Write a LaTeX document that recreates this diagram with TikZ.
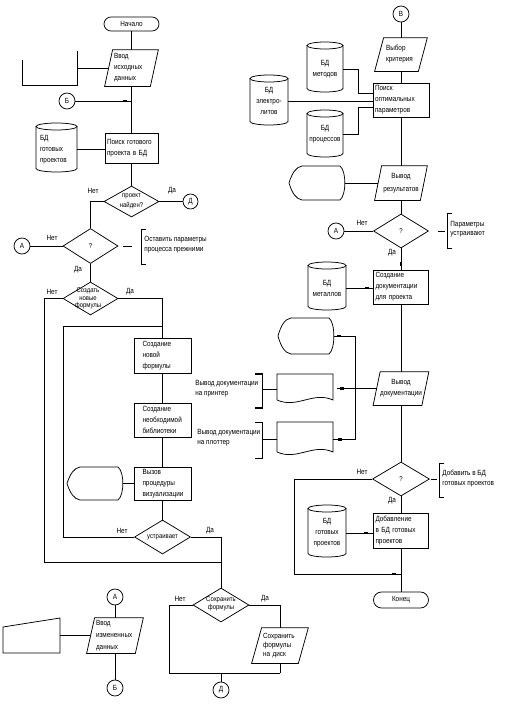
\documentclass[tikz,border=0pt]{standalone}
\usepackage{fontspec}
\setmainfont{Liberation Sans}[FakeStretch=0.85]
\usetikzlibrary{shapes.geometric,shapes.misc}
\newcommand\mycyl[7]{%
 \pgfmathsetmacro\myL{#2-#4/2}%
 \pgfmathsetmacro\myR{#2+#4/2}%
 \pgfmathsetmacro\myT{#3-#5/2+3.5}%
 \pgfmathsetmacro\myB{#3+#5/2-3.5}%
 \pgfmathsetmacro\myRx{#4/2}%
 \pgfmathsetmacro\myK{0.5523*#4/2}%
 \draw (#2,\myT) ellipse [x radius=\myRx pt, y radius=3.5pt];
 \draw (\myL,\myT) -- (\myL,\myB) .. controls (\myL,\myB+1.93) and (#2-\myK,\myB+3.5) .. (#2,\myB+3.5) .. controls (#2+\myK,\myB+3.5) and (\myR,\myB+1.93) .. (\myR,\myB) -- (\myR,\myT);
 \node[draw=none, minimum width=#4pt, minimum height=#5pt, inner sep=0pt, #6] (#1) at (#2,#3) {#7};
}
\newcommand\mypara[8]{%
 \node[draw=none, minimum width=#4pt, minimum height=#5pt, inner sep=0pt, #7] (#1) at (#2,#3) {#8};
 \draw ([xshift=#6pt]#1.north west) -- (#1.north east) -- ([xshift=-#6pt]#1.south east) -- (#1.south west) -- cycle;
}
\newcommand\mydisp[5]{%
 \pgfmathsetmacro\myL{#2-#4/2}%
 \pgfmathsetmacro\myR{#2+#4/2}%
 \pgfmathsetmacro\myT{#3-#5/2}%
 \pgfmathsetmacro\myB{#3+#5/2}%
 \node[draw=none, minimum width=#4pt, minimum height=#5pt, inner sep=0pt] (#1) at (#2,#3) {};
 \draw (\myL,#3) .. controls (\myL+3,\myT+7) and (\myL+7,\myT+1) .. (\myL+13,\myT) -- (\myR-5,\myT) .. controls (\myR+1.5,\myT+5) and (\myR+1.5,\myB-5) .. (\myR-5,\myB) -- (\myL+13,\myB) .. controls (\myL+7,\myB-1) and (\myL+3,\myB-7) .. (\myL,#3);
}
\newcommand\mydoc[5]{%
 \pgfmathsetmacro\myL{#2-#4/2}%
 \pgfmathsetmacro\myR{#2+#4/2}%
 \pgfmathsetmacro\myT{#3-#5/2}%
 \pgfmathsetmacro\myB{#3+#5/2}%
 \node[draw=none, minimum width=#4pt, minimum height=#5pt, inner sep=0pt] (#1) at (#2,#3) {};
 \draw (\myL,\myB-5) -- (\myL,\myT) -- (\myR,\myT) -- (\myR,\myB-5) .. controls (\myR-20,\myB-14) and (\myL+20,\myB+4) .. (\myL,\myB-5);
}
\begin{document}
\begin{tikzpicture}[x=1pt,y=-1pt,line width=0.75pt,
 font=\fontsize{7.5}{11}\selectfont,
 box/.style={draw, rectangle, inner ysep=0pt},
 conn/.style={circle, draw, minimum size=16pt, inner sep=0pt},
 term/.style={rounded rectangle, draw, minimum width=55pt, minimum height=14pt, inner sep=0pt},
 dia/.style={diamond, draw, inner sep=0pt},
 dtxt/.style={inner sep=0pt, align=center, font=\fontsize{7}{9.5}\selectfont},
 dtxtt/.style={inner sep=0pt, align=center, font=\fontsize{7}{7.5}\selectfont},
 mk/.style={fill, inner sep=0pt, minimum width=4pt, minimum height=2.2pt, sloped},
 lbl/.style={inner sep=0pt},
 anno/.style={inner sep=0pt, align=left, font=\fontsize{7.5}{9.5}\selectfont}]
\fill[white] (0,0) rectangle (516,712);
\useasboundingbox (0,0) rectangle (516,712);

% ---------- left column ----------
\node[term] (start) at (131.5,24) {Начало};
\mypara{vvod}{131.5}{68}{53}{36}{8}{text width=35pt, inner xsep=9pt, align=left}{Ввод\\исходных\\данных}
\draw (start.south) -- (vvod.north);
\draw (22,60) -- (22,85) -- (77,85) -- (77,51);
\coordinate (uR) at (77,68);
\draw (uR) -- ([xshift=4pt]vvod.west);

\node[conn] (cB1) at (67,101) {Б};
\mycyl{cyl1}{56.5}{147.5}{41}{49}{text width=33pt, inner xsep=4pt, align=left, yshift=-2pt}{БД\\готовых\\проектов}
\node[box, minimum width=53pt, minimum height=30pt, text width=49pt, inner xsep=2pt, align=left] (poisk) at (131.5,148) {Поиск готового\\проекта в БД};
\draw (vvod.south) -- (poisk.north);
\draw (cB1.east) -- node[mk, pos=0.88] (m1) {} (cB1 -| poisk.north);
\draw (cyl1.east) -- (cyl1.east -| poisk.west);

\node[dia, minimum width=55pt, minimum height=31pt] (d1) at (131.5,201.5) {};
\node[dtxt] (d1t) at (d1) {проект\\найден?};
\draw (poisk.south) -- (d1.north);
\node[conn, minimum size=15pt] (cD1) at (190.5,201.5) {Д};
\draw (d1.east) -- (cD1.west);
\node[lbl] (l1n) at (93,191) {Нет};
\node[lbl] (l1y) at (172,191) {Да};

\node[dia, minimum width=55pt, minimum height=35pt] (d2) at (90.5,246) {};
\node[dtxt] (d2t) at (d2) {?};
\draw (d1.west) -| (d2.north);
\node[conn] (cA1) at (22,246) {А};
\draw (d2.west) -- (cA1.east);
\node[lbl] (l2n) at (52,238) {Нет};
\coordinate (a1) at (123,246);
\draw (a1) -- ++(9,0);
\draw (146,229) -- (141,229) -- (141,264) -- (146,264);
\node[anno, anchor=west] (a1t) at (144,244.5) {Оставить параметры\\процесса прежними};
\node[lbl] (l2y) at (78,270) {Да};

\node[dia, minimum width=55pt, minimum height=33pt] (d3) at (90.5,298.5) {};
\node[dtxtt] (d3t) at (88,298.5) {Создать\\новые\\формулы};
\draw (d2.south) -- (d3.north);
\node[lbl] (l3n) at (52,292) {Нет};
\node[lbl] (l3y) at (130,292) {Да};

\node[box, minimum width=57pt, minimum height=35pt, text width=40pt, inner xsep=8.5pt, align=left] (b1) at (162.5,355.5) {Создание\\новой\\формулы};
\draw (d3.east) -| (b1.north);
\node[box, minimum width=57pt, minimum height=34pt, text width=40pt, inner xsep=8.5pt, align=left] (b2) at (162.5,420) {Создание\\необходимой\\библиотеки};
\draw (b1.south) -- (b2.north);
\node[box, minimum width=57pt, minimum height=33pt, text width=40pt, inner xsep=8.5pt, align=left] (b3) at (162.5,483.5) {Вызов\\процедуры\\визуализации};
\draw (b2.south) -- (b3.north);
\mydisp{disp1}{95}{483.5}{56}{33}
\draw (disp1.east) -- (b3.west);

\node[dia, minimum width=56pt, minimum height=34pt] (d4) at (162.5,537) {};
\node[dtxt] (d4t) at (d4) {устраивает};
\draw (b3.south) -- (d4.north);
\node[lbl] (l4n) at (122,531) {Нет};
\node[lbl] (l4y) at (210,531) {Да};
\coordinate (j1) at (162.5,326);
\draw (d4.west) -- ++(-70.5,0) |- (j1);

\node[dia, minimum width=56pt, minimum height=34pt] (d5) at (221,605) {};
\node[dtxtt] (d5t) at (221,604) {Сохранить\\формулы};
\draw (d4.east) -| (d5.north);
\coordinate (j0) at (221,562);
\draw (d3.west) -- ++(-18.5,0) |- (j0);
\node[lbl] (l5n) at (180,599) {Нет};
\node[lbl] (l5y) at (265,599) {Да};
\mypara{sav}{280}{645.5}{56}{35}{10}{text width=34pt, inner xsep=11pt, align=left, font=\fontsize{7.5}{9}\selectfont}{Сохранить\\формулы\\на диск}
\draw (d5.east) -| (sav.north);
\coordinate (j3) at (280,673);
\draw (d5.west) -- ++(-23.5,0) |- (j3);
\draw (sav.south) -- (j3);
\node[conn] (cD2) at (221,690) {Д};
\draw (cD2.north |- j3) -- (cD2.north);

% ---------- bottom left ----------
\node[conn] (cA2) at (115,597) {А};
\mypara{vvod2}{115}{635.5}{56}{35}{8}{text width=38pt, inner xsep=9pt, align=left, font=\fontsize{7.5}{12}\selectfont}{Ввод\\измененных\\данных}
\node[conn] (cB2) at (115,688) {Б};
\draw (cA2) -- (vvod2.north);
\draw (vvod2.south) -- (cB2);
\draw (3,627) -- (60,618) -- (60,653) -- (3,653) -- cycle;
\coordinate (mi) at (60,635.5);
\draw (mi) -- ([xshift=4pt]vvod2.west);

% ---------- right column ----------
\node[conn] (cV) at (401,14) {В};
\mypara{vyb}{401}{54.5}{52}{33}{9}{text width=30pt, inner xsep=11pt, align=left}{Выбор\\критерия}
\draw (cV) -- (vyb.north);
\node[box, minimum width=56pt, minimum height=34pt, text width=52pt, inner xsep=2pt, align=left] (p2) at (401,100) {Поиск\\оптимальных\\параметров};
\draw (vyb.south) -- (p2.north);
\mycyl{cyl2}{325}{67}{36}{50}{align=center, yshift=-2pt}{БД\\методов}
\mycyl{cyl3}{269}{100}{38}{50}{align=center, yshift=-1pt}{БД\\электро-\\литов}
\mycyl{cyl4}{325}{133.5}{36}{47}{align=center, yshift=-1pt}{БД\\процессов}
\draw (cyl2.east) -- ++(15,0) |- ([yshift=7pt]p2.west);
\draw (cyl3.east) -- (cyl3.east -| p2.west);
\draw (cyl4.east) -- ++(15,0) |- ([yshift=-7pt]p2.west);

\mypara{res}{401}{183}{52}{34}{7}{text width=46pt, inner xsep=3pt, align=center, font=\fontsize{7.5}{13}\selectfont}{Вывод\\результатов}
\draw (p2.south) -- (res.north);
\mydisp{disp2}{317}{183}{56}{34}
\draw (disp2.east) -- ([xshift=3.5pt]res.west);

\node[dia, minimum width=55pt, minimum height=34pt] (d6) at (401,231) {};
\node[dtxt] (d6t) at (d6) {?};
\draw (res.south) -- (d6.north);
\node[conn] (cA3) at (336,231) {А};
\draw (d6.west) -- (cA3.east);
\node[lbl] (l6n) at (362,223) {Нет};
\node[lbl] (l6y) at (392,253) {Да};
\coordinate (a2) at (438,231);
\draw (a2) -- ++(7,0);
\draw (452,213) -- (447,213) -- (447,248) -- (452,248);
\node[anno, anchor=west] (a2t) at (450,229) {Параметры\\устраивают};

\node[box, minimum width=55pt, minimum height=34pt, text width=51pt, inner xsep=2pt, align=left] (b4) at (401,287) {Создание\\документации\\для проекта};
\draw (d6.south) -- node[mk, pos=0.72] (m2) {} (b4.north);
\mycyl{cyl5}{327}{286}{38}{48}{align=center, yshift=-2pt}{БД\\металлов}
\draw (cyl5.east) -- node[mk, pos=0.78] (m3) {} (cyl5.east -| b4.west);

\mypara{vdoc}{401}{388.5}{55}{33}{7}{text width=49pt, inner xsep=3pt, align=center}{Вывод\\документации}
\draw (b4.south) -- (vdoc.north);
\mydisp{disp3}{306}{336}{56}{36}
\mydoc{doc1}{305}{389.5}{56}{31}
\mydoc{doc2}{305}{439.5}{56}{35}
\draw ([xshift=3.5pt]vdoc.west) -- node[mk, pos=0.86] (m4) {} ([xshift=3.5pt]vdoc.west -| doc1.east);
\draw (disp3.east) -- node[mk, pos=0.24] (m5) {} ++(21,0) |- node[mk, pos=0.84] (m6) {} (doc2.east);
\draw[line width=1.4pt] (255,374) -- (262.5,374) -- (262.5,408) -- (255,408);
\coordinate (br1) at (262.5,389.5);
\draw (br1) -- (doc1.west);
\node[anno, anchor=west] (t1) at (195,388.5) {Вывод документации\\на принтер};
\draw (255,422) -- (262.5,422) -- (262.5,458) -- (255,458);
\coordinate (br2) at (262.5,439.5);
\draw (br2) -- (doc2.west);
\node[anno, anchor=west] (t2) at (197,437.5) {Вывод документации\\на плоттер};

\node[dia, minimum width=57pt, minimum height=34pt] (d7) at (401,479) {};
\node[dtxt] (d7t) at (d7) {?};
\draw (vdoc.south) -- (d7.north);
\coordinate (a3) at (431,479);
\draw (a3) -- ++(6,0);
\draw (444,463) -- (439,463) -- (439,497) -- (444,497);
\node[anno, anchor=west] (a3t) at (442,478.5) {Добавить в БД\\готовых проектов};
\node[lbl] (l7n) at (362,472) {Нет};
\node[lbl] (l7y) at (392,501) {Да};

\node[box, minimum width=55pt, minimum height=35pt, text width=51pt, inner xsep=2pt, align=left] (b5) at (401,530.5) {Добавление\\в БД готовых\\проектов};
\draw (d7.south) -- (b5.north);
\mycyl{cyl6}{327}{531}{38}{52}{align=center, yshift=-2pt}{БД\\готовых\\проектов}
\draw (cyl6.east) -- node[mk, pos=0.74] (m7) {} (cyl6.east -| b5.west);
\node[term, minimum height=16pt] (end) at (401,600) {Конец};
\draw (b5.south) -- (end.north);
\coordinate (j4) at (401,574);
\draw (d7.west) -- ++(-78,0) |- node[mk, pos=0.967] (m8) {} (j4);
\end{tikzpicture}
\end{document}
